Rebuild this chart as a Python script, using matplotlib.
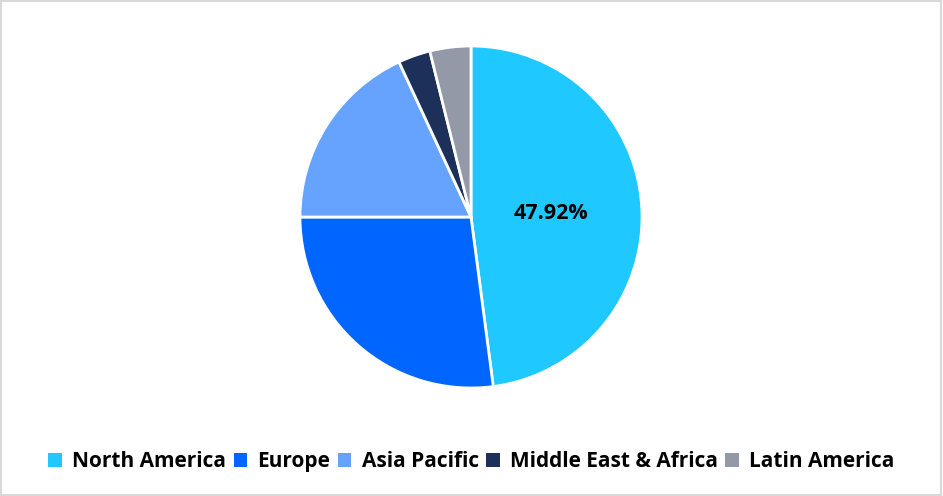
import matplotlib.pyplot as plt
from matplotlib.patches import Rectangle

plt.rcParams['font.family'] = ['Open Sans', 'DejaVu Sans']

regions = ["North America", "Europe", "Asia Pacific", "Middle East & Africa", "Latin America"]
shares = [47.92, 27.08, 18.08, 3.05, 3.87]
colors = ["#1FC9FF", "#0066FF", "#66A3FF", "#1C3059", "#9399A6"]

fig = plt.figure(figsize=(9.43, 4.96), dpi=100)
fig.patches.append(Rectangle((0.001, 0.002), 0.997, 0.995, transform=fig.transFigure,
                             fill=False, edgecolor="#D9D9D9", linewidth=1.5))

# pie area: center ~ (471, 217) px, radius ~170 px
r = 171
cx, cy = 471, 217
ax = fig.add_axes([(cx - r) / 943, (496 - cy - r) / 496, 2 * r / 943, 2 * r / 496])
wedges, _ = ax.pie(shares, colors=colors, startangle=90, counterclock=False,
                   wedgeprops=dict(edgecolor="white", linewidth=2))
ax.set_xlim(-1, 1)
ax.set_ylim(-1, 1)
ax.set_aspect("equal")
for w in wedges:
    w.set_clip_on(False)

# only the largest slice is labelled
ax.text(0.47, 0.02, f"{shares[0]:.2f}%", ha="center", va="center",
        fontsize=15.5, fontweight="bold", color="black")

handles = [Rectangle((0, 0), 1, 1, facecolor=c, edgecolor="none") for c in colors]
fig.legend(handles, regions, loc="center", bbox_to_anchor=(0.5, 0.069), ncol=5,
           frameon=False, handlelength=0.65, handleheight=0.65, handletextpad=0.5,
           columnspacing=0.35, prop=dict(size=15, weight="bold"))

fig.savefig("out.png", dpi=100)
